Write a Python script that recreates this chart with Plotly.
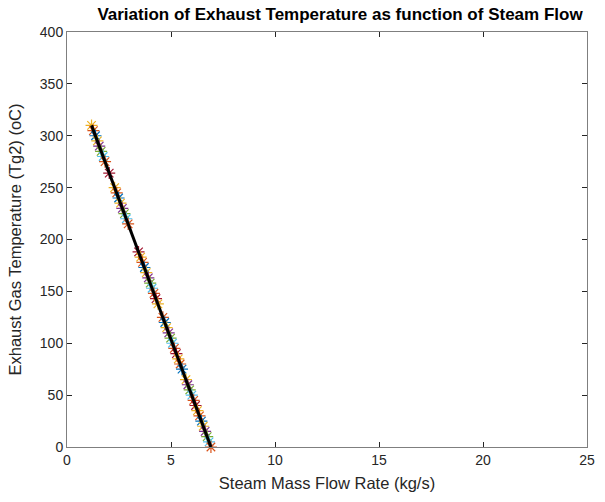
import plotly.graph_objects as go

steam_flow = [1.18, 1.27, 1.37, 1.46, 1.55, 1.64, 1.74, 1.83, 2.03, 2.29, 2.39, 2.48,
              2.57, 2.66, 2.76, 2.85, 2.94, 3.44, 3.54, 3.63, 3.72, 3.81, 3.91, 4.00,
              4.09, 4.18, 4.28, 4.37, 4.61, 4.70, 4.79, 4.89, 4.98, 5.07, 5.16, 5.26,
              5.35, 5.44, 5.53, 5.72, 5.81, 5.90, 6.00, 6.09, 6.18, 6.27, 6.37, 6.46,
              6.55, 6.64, 6.74, 6.83, 6.92]
exhaust_temp = [310, 305, 300, 295, 290, 285, 280, 275, 264, 250, 245, 240,
                235, 230, 225, 220, 215, 188, 183, 178, 173, 168, 163, 158,
                153, 148, 143, 138, 125, 120, 115, 110, 105, 100, 95, 90,
                85, 80, 75, 65, 60, 55, 50, 45, 40, 35, 30, 25,
                20, 15, 10, 5, 0]
fit_flow = [1.18, 6.92]
fit_temp = [310, 0]

matlab_colors = ["#EDB120", "#D95319", "#0072BD", "#EDB120", "#7E2F8E", "#77AC30",
                 "#4DBEEE", "#D95319", "#A2142F"]
point_colors = [matlab_colors[i % len(matlab_colors)] for i in range(len(steam_flow))]

x_ticks = [0, 5, 10, 15, 20, 25]
y_ticks = [0, 50, 100, 150, 200, 250, 300, 350, 400]

fig = go.Figure()
fig.add_trace(go.Scatter(
    x=steam_flow, y=exhaust_temp, mode="markers",
    marker=dict(symbol="asterisk-open", size=10, color=point_colors,
                line=dict(width=1.2, color=point_colors)),
    showlegend=False, cliponaxis=False))
fig.add_trace(go.Scatter(
    x=fit_flow, y=fit_temp, mode="lines",
    line=dict(color="black", width=3), showlegend=False, cliponaxis=False))

axis_common = dict(showgrid=False, zeroline=False, showline=True, mirror="ticks",
                   linecolor="#7f7f7f", linewidth=1, ticks="inside", ticklen=5,
                   tickcolor="#262626", tickwidth=1,
                   tickfont=dict(family="Liberation Sans, Arial", size=14, color="#262626"))

fig.update_layout(
    width=605, height=502,
    margin=dict(l=67, r=10, t=32, b=55),
    paper_bgcolor="white", plot_bgcolor="white",
    title=dict(text="<b>Variation of Exhaust Temperature as function of Steam Flow</b>",
               x=0.562, xanchor="center", y=0.972, yanchor="middle",
               font=dict(family="Liberation Sans, Arial", size=17, color="black")),
    xaxis=dict(range=[0, 25], tickvals=x_ticks,
               title=dict(text="Steam Mass Flow Rate (kg/s)", standoff=10,
                          font=dict(family="Liberation Sans, Arial", size=16.5, color="#262626")),
               **axis_common),
    yaxis=dict(range=[0, 400], tickvals=y_ticks,
               title=dict(text="Exhaust Gas Temperature (Tg2) (oC)", standoff=14,
                          font=dict(family="Liberation Sans, Arial", size=16.5, color="#262626")),
               **axis_common),
)

fig.write_html("out.html")
